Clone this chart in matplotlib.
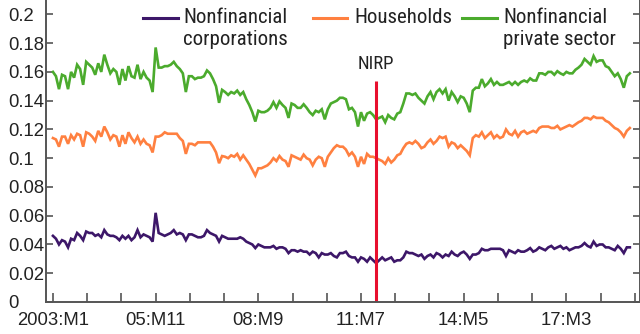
import numpy as np
import matplotlib
matplotlib.use("Agg")
import matplotlib.pyplot as plt
from matplotlib.lines import Line2D
from matplotlib.ticker import FuncFormatter

# Monthly series, 2003:M1 onwards
nfc = [
    0.046, 0.044, 0.040, 0.043, 0.042, 0.038, 0.044, 0.043, 0.048, 0.046,
    0.043, 0.049, 0.048, 0.048, 0.046, 0.047, 0.045, 0.050, 0.047, 0.046,
    0.046, 0.045, 0.043, 0.046, 0.044, 0.046, 0.043, 0.045, 0.050, 0.045,
    0.047, 0.046, 0.045, 0.042, 0.062, 0.048, 0.047, 0.046, 0.047, 0.048,
    0.050, 0.047, 0.048, 0.047, 0.043, 0.047, 0.047, 0.046, 0.045, 0.045,
    0.046, 0.050, 0.048, 0.047, 0.046, 0.042, 0.046, 0.045, 0.044, 0.044,
    0.044, 0.044, 0.045, 0.044, 0.042, 0.041, 0.040, 0.0375, 0.040, 0.039,
    0.038, 0.038, 0.038, 0.039, 0.037, 0.038, 0.038, 0.037, 0.034, 0.036,
    0.036, 0.035, 0.036, 0.035, 0.035, 0.033, 0.035, 0.034, 0.031, 0.034,
    0.033, 0.033, 0.034, 0.032, 0.031, 0.034, 0.034, 0.035, 0.032, 0.031,
    0.031, 0.028, 0.031, 0.030, 0.028, 0.031, 0.029, 0.027, 0.029, 0.031,
    0.029, 0.030, 0.031, 0.028, 0.029, 0.029, 0.031, 0.035, 0.034, 0.034,
    0.033, 0.032, 0.033, 0.030, 0.032, 0.033, 0.031, 0.034, 0.033, 0.031,
    0.033, 0.032, 0.035, 0.033, 0.032, 0.034, 0.035, 0.033, 0.030, 0.033,
    0.033, 0.034, 0.037, 0.036, 0.036, 0.037, 0.037, 0.037, 0.037, 0.036,
    0.032, 0.036, 0.035, 0.034, 0.036, 0.035, 0.035, 0.036, 0.0375, 0.035,
    0.036, 0.038, 0.037, 0.036, 0.038, 0.039, 0.037, 0.038, 0.039, 0.037,
    0.038, 0.036, 0.037, 0.038, 0.038, 0.039, 0.041, 0.039, 0.038, 0.042,
    0.039, 0.040, 0.040, 0.038, 0.038, 0.037, 0.036, 0.039, 0.037, 0.034,
    0.038, 0.038,
]
households = [
    0.114, 0.113, 0.108, 0.115, 0.115, 0.110, 0.116, 0.113, 0.117, 0.116,
    0.108, 0.118, 0.117, 0.115, 0.112, 0.119, 0.115, 0.122, 0.118, 0.113,
    0.116, 0.115, 0.108, 0.116, 0.110, 0.118, 0.114, 0.111, 0.115, 0.110,
    0.113, 0.110, 0.109, 0.104, 0.115, 0.115, 0.116, 0.118, 0.117, 0.117,
    0.117, 0.117, 0.114, 0.112, 0.103, 0.110, 0.110, 0.109, 0.111, 0.111,
    0.111, 0.111, 0.111, 0.108, 0.104, 0.0965, 0.1015, 0.101, 0.100, 0.102,
    0.101, 0.103, 0.099, 0.102, 0.099, 0.096, 0.092, 0.088, 0.093, 0.093,
    0.094, 0.095, 0.097, 0.100, 0.098, 0.1015, 0.099, 0.098, 0.094, 0.102,
    0.101, 0.100, 0.099, 0.1025, 0.100, 0.099, 0.095, 0.099, 0.101, 0.100,
    0.094, 0.101, 0.104, 0.107, 0.109, 0.108, 0.108, 0.106, 0.102, 0.104,
    0.101, 0.094, 0.101, 0.096, 0.103, 0.101, 0.101, 0.100, 0.099, 0.098,
    0.096, 0.100, 0.097, 0.099, 0.102, 0.103, 0.107, 0.110, 0.111, 0.110,
    0.112, 0.110, 0.107, 0.108, 0.111, 0.113, 0.110, 0.112, 0.115, 0.114,
    0.115, 0.108, 0.111, 0.110, 0.107, 0.109, 0.107, 0.105, 0.102, 0.114,
    0.116, 0.115, 0.118, 0.114, 0.116, 0.118, 0.114, 0.116, 0.114, 0.115,
    0.120, 0.117, 0.116, 0.119, 0.115, 0.118, 0.119, 0.117, 0.118, 0.119,
    0.118, 0.121, 0.122, 0.122, 0.122, 0.121, 0.121, 0.1225, 0.120, 0.121,
    0.122, 0.123, 0.122, 0.1235, 0.125, 0.126, 0.128, 0.128, 0.127, 0.129,
    0.128, 0.128, 0.128, 0.126, 0.125, 0.123, 0.121, 0.120, 0.118, 0.115,
    0.119, 0.121,
]
private_sector = [
    0.160, 0.157, 0.148, 0.158, 0.157, 0.148, 0.160, 0.156, 0.165, 0.162,
    0.151, 0.167, 0.165, 0.163, 0.158, 0.166, 0.160, 0.172, 0.165, 0.159,
    0.162, 0.160, 0.151, 0.162, 0.154, 0.164, 0.157, 0.156, 0.165, 0.155,
    0.160, 0.156, 0.154, 0.146, 0.177, 0.163, 0.163, 0.164, 0.164, 0.165,
    0.167, 0.164, 0.162, 0.159, 0.146, 0.157, 0.157, 0.155, 0.156, 0.156,
    0.157, 0.161, 0.159, 0.155, 0.150, 0.1385, 0.1475, 0.146, 0.144, 0.146,
    0.145, 0.147, 0.144, 0.146, 0.141, 0.137, 0.132, 0.1255, 0.133, 0.132,
    0.132, 0.133, 0.135, 0.139, 0.135, 0.1395, 0.137, 0.135, 0.128, 0.138,
    0.137, 0.135, 0.135, 0.1375, 0.135, 0.132, 0.130, 0.133, 0.132, 0.134,
    0.127, 0.134, 0.138, 0.139, 0.140, 0.142, 0.142, 0.141, 0.134, 0.135,
    0.132, 0.122, 0.132, 0.126, 0.131, 0.132, 0.130, 0.127, 0.128, 0.129,
    0.125, 0.130, 0.128, 0.127, 0.131, 0.132, 0.138, 0.145, 0.145, 0.144,
    0.145, 0.142, 0.140, 0.138, 0.143, 0.146, 0.141, 0.146, 0.148, 0.145,
    0.148, 0.140, 0.146, 0.143, 0.139, 0.143, 0.142, 0.138, 0.132, 0.147,
    0.149, 0.149, 0.155, 0.150, 0.152, 0.155, 0.151, 0.153, 0.151, 0.151,
    0.152, 0.153, 0.151, 0.153, 0.151, 0.153, 0.154, 0.153, 0.1555, 0.154,
    0.154, 0.159, 0.159, 0.158, 0.160, 0.160, 0.158, 0.1605, 0.159, 0.158,
    0.160, 0.159, 0.159, 0.1615, 0.163, 0.165, 0.169, 0.167, 0.165, 0.171,
    0.167, 0.168, 0.168, 0.164, 0.163, 0.160, 0.157, 0.159, 0.155, 0.149,
    0.157, 0.159,
]

start_year = 2003
tick_months = [(2003, 1), (2005, 11), (2008, 9), (2011, 7), (2014, 5), (2017, 3)]
tick_labels = ["2003:M1", "05:M11", "08:M9", "11:M7", "14:M5", "17:M3"]
nirp_month = (2011, 12)

PURPLE = "#3d1769"
ORANGE = "#ff8040"
GREEN = "#4bab2d"
RED = "#e8102e"
AXIS = "#555555"
TEXT = "#222222"

NARROW = ["Roboto Condensed", "PT Sans Narrow", "Archivo Narrow", "DejaVu Sans"]
plt.rcParams["font.family"] = ["Liberation Sans", "DejaVu Sans"]


def month_index(ym):
    y, m = ym
    return (y - start_year) * 12 + (m - 1)


W, H = 640, 334
fig = plt.figure(figsize=(W / 100, H / 100), dpi=100)
ax = fig.add_axes([46 / W, 1 - 302 / H, (639.5 - 46) / W, 302 / H])

x = np.arange(len(private_sector))
ax.plot(x, nfc, color=PURPLE, lw=1.9, solid_joinstyle="miter")
ax.plot(x, households, color=ORANGE, lw=1.9, solid_joinstyle="miter")
ax.plot(x, private_sector, color=GREEN, lw=1.9, solid_joinstyle="miter")

nx = month_index(nirp_month)
ax.vlines(nx, 0, 0.154, color=RED, lw=2.2)
ax.text(nx, 0.1655, "NIRP", ha="center", va="center", fontsize=13.5,
        family=NARROW, color=TEXT)

ax.set_xlim(-2.3, 194.2)
ax.set_ylim(0, 0.21)

major = [month_index(t) for t in tick_months]
ax.set_xticks(major)
ax.set_xticklabels(tick_labels)
ax.set_xticks(np.arange(0, 194, 34 / 3), minor=True)
ax.set_yticks(np.arange(0, 0.201, 0.02))
ax.yaxis.set_major_formatter(FuncFormatter(lambda v, _: f"{round(v, 2):g}"))

ax.tick_params(axis="both", which="both", direction="in", color=AXIS,
               width=1.2, labelcolor=TEXT, labelsize=13.3)
ax.tick_params(axis="x", which="both", length=6.5, pad=7)
ax.tick_params(axis="y", length=5, pad=27.4, right=True)
for lbl in ax.get_yticklabels():
    lbl.set_ha("left")

for side in ["left", "bottom", "right"]:
    ax.spines[side].set_color(AXIS)
    ax.spines[side].set_linewidth(1.4)
ax.spines["top"].set_visible(False)

# Legend drawn by hand so the key sits on the first text line
entries = [
    (143, 178, 183, "Nonfinancial\ncorporations", PURPLE),
    (313, 347, 354, "Households", ORANGE),
    (462, 497, 503, "Nonfinancial\nprivate sector", GREEN),
]
for x0, x1, tx, label, color in entries:
    fig.add_artist(Line2D([x0 / W, x1 / W], [1 - 18 / H, 1 - 18 / H],
                          transform=fig.transFigure, color=color, lw=2.2))
    fig.text(tx / W, 1 - 8 / H, label, ha="left", va="top", fontsize=15,
             family=NARROW, color=TEXT, linespacing=1.2)

fig.savefig("out.png", dpi=100)
